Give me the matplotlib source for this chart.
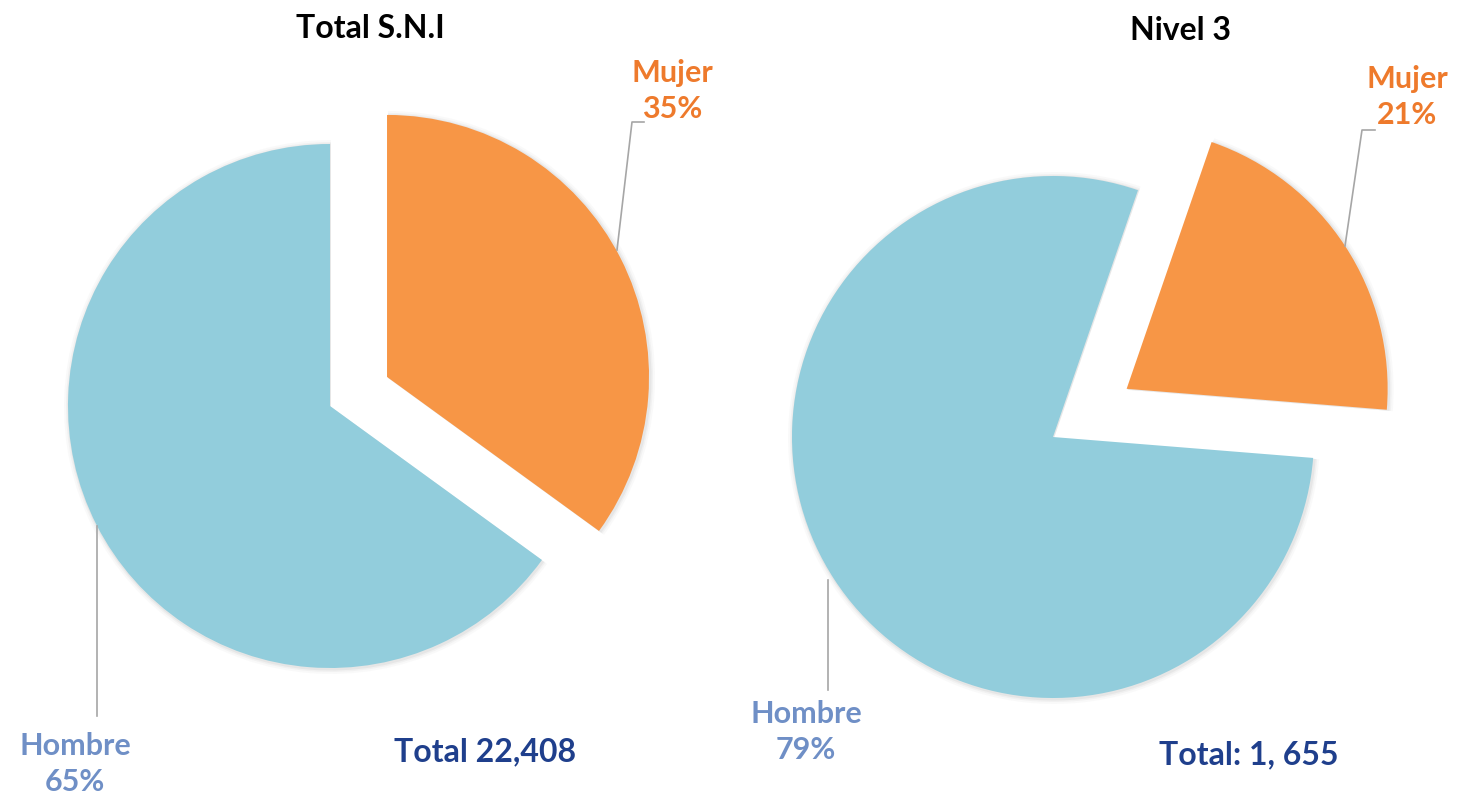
import matplotlib.pyplot as plt

# Data
titles = ['Total S.N.I', 'Nivel 3']
categories = ['Mujer', 'Hombre']
sni_values = [35, 65]
nivel3_values = [21, 79]
totals = ['Total 22,408', 'Total: 1, 655']

W, H = 1464, 800
BLUE = '#92CDDC'
ORANGE = '#F79646'
MUJER_TXT = '#EE7A2C'
HOMBRE_TXT = '#6F8FC6'
TOTAL_TXT = '#1F3F8C'
LEADER = '#A6A6A6'
FONT = 'Lato'

fig = plt.figure(figsize=(W / 100, H / 100), dpi=100)
ax = fig.add_axes([0, 0, 1, 1])

# layout in pixel coords (y from top)
layouts = [
    dict(values=sni_values, center=(330, 406), r=262, start=90, explode=64,
         title_xy=(370, 28), total_xy=(485, 752),
         muj_xy=(672, 91), muj_line=[(617, 250), (632, 122), (644, 122)],
         hom_xy=(75, 764), hom_line=[(97, 526), (97, 716)]),
    dict(values=nivel3_values, center=(1053, 437), r=261, start=71, explode=88,
         title_xy=(1181, 30), total_xy=(1249, 755),
         muj_xy=(1407, 97), muj_line=[(1345, 246), (1362, 130), (1375, 130)],
         hom_xy=(806, 732), hom_line=[(828, 580), (828, 690)]),
]

for i, lay in enumerate(layouts):
    cx, cy = lay['center']
    vals = lay['values']
    # soft shadow
    for k, a in [(5, 0.05), (3, 0.08), (1.5, 0.12)]:
        ax.pie(vals, center=(cx + 1, H - cy - 1), radius=lay['r'] + k,
               startangle=lay['start'], counterclock=False,
               explode=[lay['explode'], 0], colors=['#9a9a9a', '#9a9a9a'],
               wedgeprops=dict(linewidth=0, alpha=a))
    ax.pie(vals, center=(cx, H - cy), radius=lay['r'],
           startangle=lay['start'], counterclock=False,
           explode=[lay['explode'], 0], colors=[ORANGE, BLUE],
           wedgeprops=dict(linewidth=0))

    ax.text(lay['title_xy'][0], H - lay['title_xy'][1], titles[i],
            ha='center', va='center', fontsize=23, fontweight='bold',
            family=FONT, color='black')
    ax.text(lay['total_xy'][0], H - lay['total_xy'][1], totals[i],
            ha='center', va='center', fontsize=23, fontweight='bold',
            family=FONT, color=TOTAL_TXT)

    mx, my = lay['muj_xy']
    ax.text(mx, H - my, f'{categories[0]}\n{vals[0]}%', ha='center', va='center',
            fontsize=22, fontweight='bold', family=FONT, color=MUJER_TXT,
            linespacing=1.35)
    hx, hy = lay['hom_xy']
    ax.text(hx, H - hy, f'{categories[1]}\n{vals[1]}%', ha='center', va='center',
            fontsize=22, fontweight='bold', family=FONT, color=HOMBRE_TXT,
            linespacing=1.35)

    for pts in (lay['muj_line'], lay['hom_line']):
        ax.plot([p[0] for p in pts], [H - p[1] for p in pts], color=LEADER, lw=1.2)

ax.set_xlim(0, W)
ax.set_ylim(0, H)
ax.set_aspect('auto')
ax.axis('off')

fig.savefig('out.png', dpi=100, facecolor='white')
